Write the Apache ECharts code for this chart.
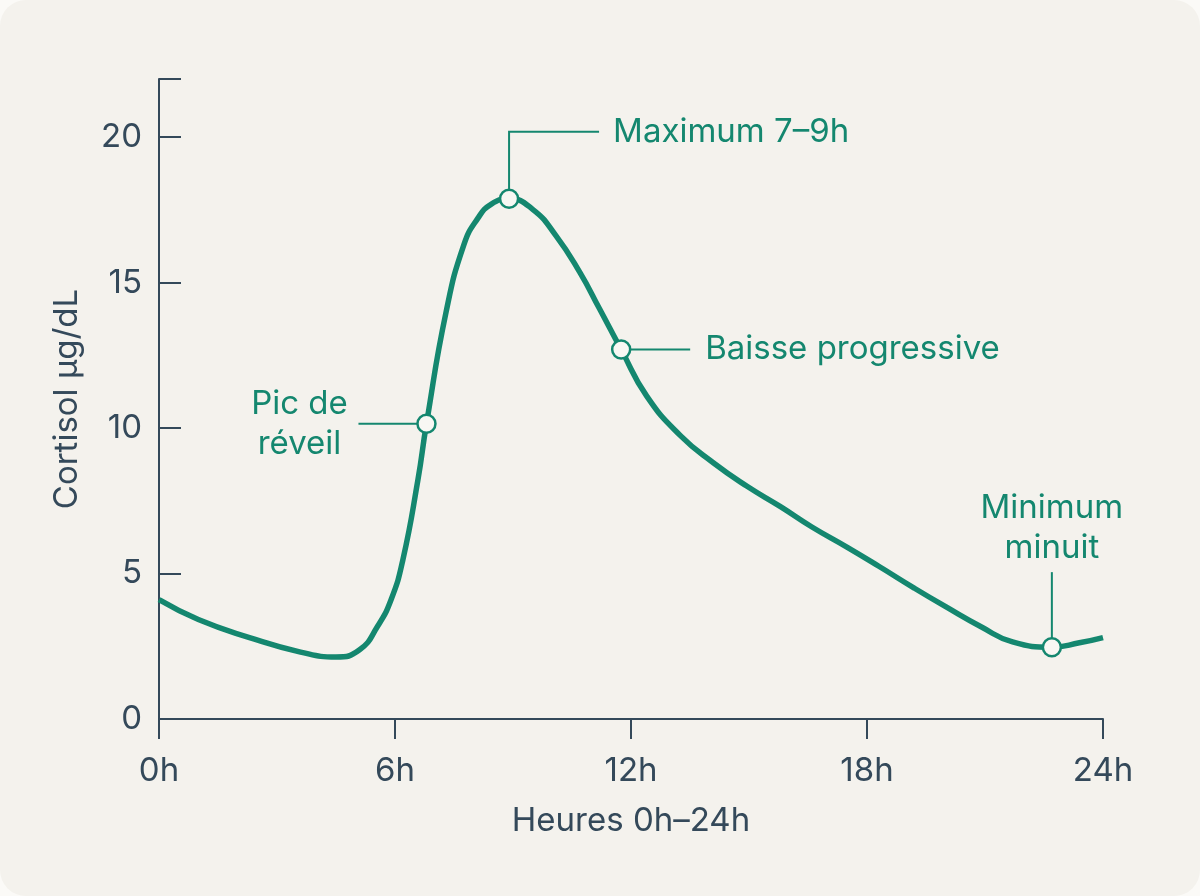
<!DOCTYPE html>
<html>
<head>
<meta charset="utf-8">
<script src="https://cdn.jsdelivr.net/npm/echarts@6/dist/echarts.min.js"></script>
<style>
  html, body { margin: 0; padding: 0; background: #fbfaf7; }
  #chart { width: 1200px; height: 896px; background: #f4f2ed; border-radius: 26px; }
</style>
</head>
<body>
<div id="chart"></div>
<script>
// heures et taux de cortisol (µg/dL)
var hours = [0, 1, 2.3, 3.6, 4.5, 5.1, 5.55, 5.9, 6.2, 6.58, 6.8, 7.3, 7.75, 8.1, 8.45, 8.9, 9.5, 10.1, 10.7, 11.2, 11.75, 12.4, 13.25, 14.1, 14.95, 15.8, 16.6, 17.5, 18.3, 19.2, 20, 20.9, 21.7, 22.7, 23.4, 24];
var cortisol = [4.1, 3.42, 2.8, 2.3, 2.13, 2.38, 3.17, 4.1, 5.47, 8.2, 10.15, 14.0, 16.3, 17.2, 17.7, 17.88, 17.52, 16.6, 15.35, 14.1, 12.7, 11.1, 9.75, 8.8, 8.0, 7.3, 6.6, 5.9, 5.25, 4.5, 3.86, 3.17, 2.65, 2.47, 2.62, 2.8];

// points annotés
var noteHours = [6.8, 8.9, 11.75, 22.7];
var noteValues = [10.15, 17.88, 12.7, 2.47];
var noteTexts = ['Pic de\nréveil', 'Maximum 7–9h', 'Baisse progressive', 'Minimum\nminuit'];

var yTicks = [0, 5, 10, 15, 20];

var green = '#14876f';
var ink = '#34495a';
var font = 'Inter, "Noto Sans", sans-serif';
var fs = 33;

var chart = echarts.init(document.getElementById('chart'));

var option = {
  animation: false,
  grid: { left: 159, right: 97, top: 79, bottom: 177 },
  xAxis: {
    type: 'value',
    min: 0,
    max: 24,
    interval: 6,
    name: 'Heures 0h–24h',
    nameLocation: 'middle',
    nameGap: 86,
    nameTextStyle: { color: ink, fontSize: fs, fontFamily: font },
    axisLine: { lineStyle: { color: ink, width: 2 } },
    axisTick: { show: true, length: 20, lineStyle: { color: ink, width: 2 } },
    axisLabel: {
      color: ink, fontSize: fs, fontFamily: font, margin: 36,
      formatter: function(v) { return v + 'h'; }
    },
    splitLine: { show: false }
  },
  yAxis: {
    type: 'value',
    min: 0,
    max: 22,
    interval: 5,
    name: 'Cortisol µg/dL',
    nameLocation: 'middle',
    nameGap: 75,
    nameTextStyle: { color: ink, fontSize: fs, fontFamily: font },
    axisLine: { show: true, lineStyle: { color: ink, width: 2 } },
    axisTick: { show: true, inside: true, length: 22, lineStyle: { color: ink, width: 2 } },
    axisLabel: {
      color: ink, fontSize: fs, fontFamily: font, margin: 17,
      formatter: function(v) { return yTicks.indexOf(v) >= 0 ? String(v) : ''; }
    },
    splitLine: { show: false }
  },
  series: [
    {
      type: 'line',
      data: hours.map(function(h, i) { return [h, cortisol[i]]; }),
      smooth: 0.5,
      showSymbol: false,
      lineStyle: { color: green, width: 5.5 },
      z: 2
    },
    {
      type: 'scatter',
      data: noteHours.map(function(h, i) { return [h, noteValues[i]]; }),
      symbol: 'circle',
      symbolSize: 18,
      itemStyle: { color: '#f8f7f3', borderColor: green, borderWidth: 2.5, opacity: 1 },
      z: 5
    }
  ]
};
chart.setOption(option);

// lignes de rappel et textes, positionnés à partir des points annotés
function px(h, v) { return chart.convertToPixel({ gridIndex: 0 }, [h, v]); }
var p = noteHours.map(function(h, i) { return px(h, noteValues[i]); });
var lineStyle = { stroke: green, lineWidth: 2 };
var textStyle = function(x, y, txt, align) {
  return {
    type: 'text', x: x, y: y, z: 10,
    style: {
      text: txt, fill: green, font: fs + 'px ' + font,
      align: align, verticalAlign: 'middle', lineHeight: 40
    }
  };
};
var elems = [
  // Pic de réveil
  { type: 'polyline', z: 3, shape: { points: [[p[0][0] - 9, p[0][1]], [p[0][0] - 68, p[0][1]]] }, style: lineStyle },
  textStyle(p[0][0] - 127, p[0][1], noteTexts[0], 'center'),
  // Maximum
  { type: 'polyline', z: 3, shape: { points: [[p[1][0], p[1][1] - 9], [p[1][0], p[1][1] - 67], [p[1][0] + 90, p[1][1] - 67]] }, style: lineStyle },
  textStyle(p[1][0] + 104, p[1][1] - 67, noteTexts[1], 'left'),
  // Baisse progressive
  { type: 'polyline', z: 3, shape: { points: [[p[2][0] + 9, p[2][1]], [p[2][0] + 69, p[2][1]]] }, style: lineStyle },
  textStyle(p[2][0] + 84, p[2][1], noteTexts[2], 'left'),
  // Minimum minuit
  { type: 'polyline', z: 3, shape: { points: [[p[3][0], p[3][1] - 9], [p[3][0], p[3][1] - 75]] }, style: lineStyle },
  textStyle(p[3][0], p[3][1] - 119, noteTexts[3], 'center')
];
chart.setOption({ graphic: elems });
</script>
</body>
</html>
